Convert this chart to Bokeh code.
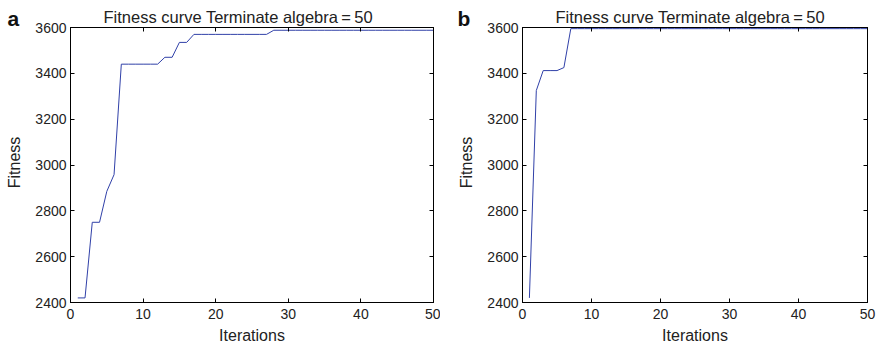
import math
from bokeh.plotting import figure
from bokeh.layouts import row, column
from bokeh.models import FixedTicker, LinearAxis, Label, Range1d
from bokeh.embed import file_html
from bokeh.resources import INLINE

# Panel a
iter_a = list(range(1, 51))
fit_a = ([2420, 2420, 2750, 2750, 2885, 2958] + [3440] * 6 + [3470] * 2 +
         [3535] * 2 + [3570] * 11 + [3588] * 23)
# Panel b
iter_b = list(range(1, 51))
fit_b = [2420, 3325, 3412, 3412, 3412, 3425] + [3595] * 44

x_ticks = [0, 10, 20, 30, 40, 50]
y_ticks = [2400, 2600, 2800, 3000, 3200, 3400, 3600]
title_text = "Fitness curve Terminate algebra\u2009=\u200950"
x_label = "Iterations"
y_label = "Fitness"
FONT = "Liberation Sans"
LINE_COLOR = "#3040a8"
TEXT_COLOR = "#222222"

TOP = 27        # border above frame (holds the title)
FRAME_H = 275
BOTTOM = 45
TOTAL_H = TOP + FRAME_H + BOTTOM


def blank_fig(w, h):
    f = figure(width=w, height=h, output_backend="svg", toolbar_location=None,
               title=None, x_range=Range1d(0, w), y_range=Range1d(h, 0),
               x_axis_type=None, y_axis_type=None,
               min_border=0, min_border_left=0, min_border_right=0,
               min_border_top=0, min_border_bottom=0)
    f.grid.visible = False
    f.outline_line_color = None
    f.background_fill_color = "white"
    f.border_fill_color = "white"
    return f


def make_panel(xs, ys, letter, side_w, letter_x, ylab_x, bl, fw, br):
    # side strip: panel letter and rotated y-axis label
    side = blank_fig(side_w, TOTAL_H)
    side.add_layout(Label(x=letter_x, y=18, text=letter, text_font=FONT,
                          text_font_size="21px", text_font_style="bold",
                          text_baseline="middle", text_align="left",
                          text_color="#111111"))
    side.add_layout(Label(x=ylab_x, y=162, text=y_label, text_font=FONT,
                          text_font_size="16px", angle=math.pi / 2,
                          text_baseline="middle", text_align="center",
                          text_color=TEXT_COLOR))

    main_w = bl + fw + br
    p = figure(width=main_w, height=TOTAL_H, output_backend="svg",
               toolbar_location=None,
               x_range=Range1d(0, 50), y_range=Range1d(2400, 3600),
               min_border_left=bl, min_border_right=br, min_border_top=TOP,
               min_border_bottom=BOTTOM, x_axis_label=x_label)
    p.title.text = title_text
    p.title.align = "left"
    p.title.offset = 33
    p.title.standoff = 4
    p.title.text_font = FONT
    p.title.text_font_size = "16.5px"
    p.title.text_font_style = "normal"
    p.title.text_color = TEXT_COLOR
    p.grid.visible = False
    p.outline_line_color = "black"
    p.outline_line_width = 1
    p.background_fill_color = "white"
    p.border_fill_color = "white"
    for ax in p.xaxis + p.yaxis:
        ax.major_tick_in = 4
        ax.major_tick_out = 0
        ax.minor_tick_line_color = None
        ax.major_label_text_font = FONT
        ax.major_label_text_font_size = "14px"
        ax.major_label_text_color = TEXT_COLOR
        ax.axis_label_text_font = FONT
        ax.axis_label_text_font_size = "16px"
        ax.axis_label_text_font_style = "normal"
        ax.axis_label_text_color = TEXT_COLOR
        ax.axis_line_color = "black"
    p.xaxis.ticker = FixedTicker(ticks=x_ticks)
    p.yaxis.ticker = FixedTicker(ticks=y_ticks)
    p.xaxis.major_label_standoff = 6
    p.xaxis.axis_label_standoff = 5
    p.yaxis.major_label_standoff = 4
    # mirrored ticks on top and right
    top = LinearAxis(ticker=FixedTicker(ticks=x_ticks), major_tick_in=4, major_tick_out=0,
                     minor_tick_line_color=None, major_label_text_font_size="0px",
                     major_label_standoff=0, major_label_text_color=None)
    right = LinearAxis(ticker=FixedTicker(ticks=y_ticks), major_tick_in=4, major_tick_out=0,
                       minor_tick_line_color=None, major_label_text_font_size="0px",
                       major_label_standoff=0, major_label_text_color=None)
    p.add_layout(top, "above")
    p.add_layout(right, "right")
    p.line(xs, ys, line_color=LINE_COLOR, line_width=1)
    # wrapping the plot in a column keeps the side strip from frame alignment
    return row(side, column(p, spacing=0), spacing=0)


# panel a: x 0..440 ; panel b: 440..880
pa = make_panel(iter_a, fit_a, "a", 26, 7, 13.5, 44, 363, 7)
pb = make_panel(iter_b, fit_b, "b", 36, 17, 25.5, 46, 345, 13)
layout = row(pa, pb, spacing=0)

open("out.html", "w").write(file_html(layout, INLINE))
